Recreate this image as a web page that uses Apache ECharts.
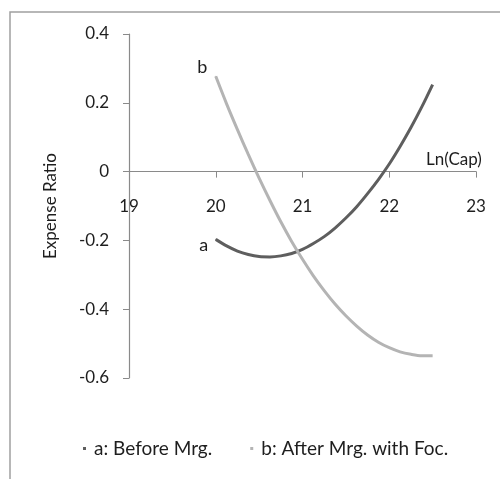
<!DOCTYPE html>
<html>
<head>
<meta charset="utf-8">
<script src="https://cdn.jsdelivr.net/npm/echarts@6/dist/echarts.min.js"></script>
<style>html,body{margin:0;padding:0;background:#fff;}#c{width:500px;height:479px;}</style>
</head>
<body>
<div id="c"></div>
<script>
// Data
const xValues = [20, 20.125, 20.25, 20.375, 20.5, 20.625, 20.75, 20.875, 21, 21.125, 21.25,
  21.375, 21.5, 21.625, 21.75, 21.875, 22, 22.125, 22.25, 22.375, 22.5];
const seriesA = [-0.197, -0.216, -0.231, -0.241, -0.247, -0.248, -0.245, -0.238, -0.226, -0.209, -0.189,
  -0.164, -0.135, -0.102, -0.064, -0.023, 0.022, 0.073, 0.128, 0.188, 0.253];
const seriesB = [0.277, 0.197, 0.122, 0.050, -0.019, -0.084, -0.146, -0.203, -0.255, -0.303, -0.346,
  -0.385, -0.419, -0.449, -0.475, -0.496, -0.512, -0.524, -0.531, -0.535, -0.535];
const seriesNames = ['a: Before Mrg.', 'b: After Mrg. with Foc.'];
const curveLabels = ['a', 'b'];
const xTicks = [19, 20, 21, 22, 23];
const yTicks = [-0.6, -0.4, -0.2, 0, 0.2, 0.4];

const FONT = 'Lato';
const TXT = '#1e1e1e';
const chart = echarts.init(document.getElementById('c'), null, {renderer: 'canvas'});
function withLabel(arr, lab, offset) {
  return xValues.map((x, i) => i === 0 ? {
    value: [x, arr[i]],
    symbol: 'circle', symbolSize: 1,
    label: {show: true, formatter: lab, position: 'left', offset: offset,
      fontFamily: FONT, fontSize: 18, color: TXT}
  } : {value: [x, arr[i]], symbol: 'none'});
}
// x axis placed where y = 0 (grid top 34, height 344, y range 0.4 .. -0.6)
const gridTop = 34, gridBottom = 101, plotH = 479 - gridTop - gridBottom;
const zeroShift = -plotH * (0 - yTicks[0]) / (yTicks[yTicks.length - 1] - yTicks[0]);
chart.setOption({
  animation: false,
  textStyle: {fontFamily: FONT},
  graphic: [{type: 'rect', shape: {x: 10, y: 12, width: 520, height: 500},
    style: {fill: null, stroke: '#a0a0a0', lineWidth: 1.5}, silent: true}],
  grid: {left: 129, right: 24, top: gridTop, bottom: gridBottom},
  legend: {
    bottom: 16, left: 78, itemGap: 38, itemWidth: 3, itemHeight: 3,
    icon: 'rect',
    textStyle: {fontFamily: FONT, fontSize: 19, color: TXT, padding: [0, 0, 0, 3]},
    data: seriesNames
  },
  xAxis: {
    type: 'value', min: xTicks[0], max: xTicks[xTicks.length - 1], interval: 1,
    offset: zeroShift,
    name: 'Ln(Cap)', nameLocation: 'end', nameGap: -50,
    nameTextStyle: {fontFamily: FONT, fontSize: 17, color: TXT, verticalAlign: 'bottom', padding: [0, 0, 4, 0]},
    axisLine: {onZero: false, lineStyle: {color: '#8a8a8a', width: 1.2}},
    axisTick: {show: true, length: 6, lineStyle: {color: '#8a8a8a'}},
    axisLabel: {margin: 26, fontSize: 17, color: TXT, fontFamily: FONT},
    splitLine: {show: false}
  },
  yAxis: {
    type: 'value', min: yTicks[0], max: yTicks[yTicks.length - 1], interval: 0.2,
    name: 'Expense Ratio', nameLocation: 'middle', nameGap: 70,
    nameTextStyle: {fontFamily: FONT, fontSize: 17, color: TXT},
    axisLine: {show: true, onZero: false, lineStyle: {color: '#8a8a8a', width: 1.2}},
    axisTick: {show: true, length: 6, lineStyle: {color: '#8a8a8a'}},
    axisLabel: {margin: 20, fontSize: 17, color: TXT, fontFamily: FONT,
      formatter: v => String(Math.round(v * 10) / 10)},
    splitLine: {show: false}
  },
  series: [
    {name: seriesNames[0], type: 'line', smooth: 0.3, symbol: 'none', showSymbol: true,
      color: '#5e5e5e', itemStyle: {color: '#5e5e5e'}, lineStyle: {width: 3, color: '#5e5e5e'},
      data: withLabel(seriesA, curveLabels[0], [-2, 6])},
    {name: seriesNames[1], type: 'line', smooth: 0.3, symbol: 'none', showSymbol: true,
      color: '#b4b4b4', itemStyle: {color: '#b4b4b4'}, lineStyle: {width: 3, color: '#b4b4b4'},
      data: withLabel(seriesB, curveLabels[1], [-3, -9])}
  ]
});
</script>
</body>
</html>
